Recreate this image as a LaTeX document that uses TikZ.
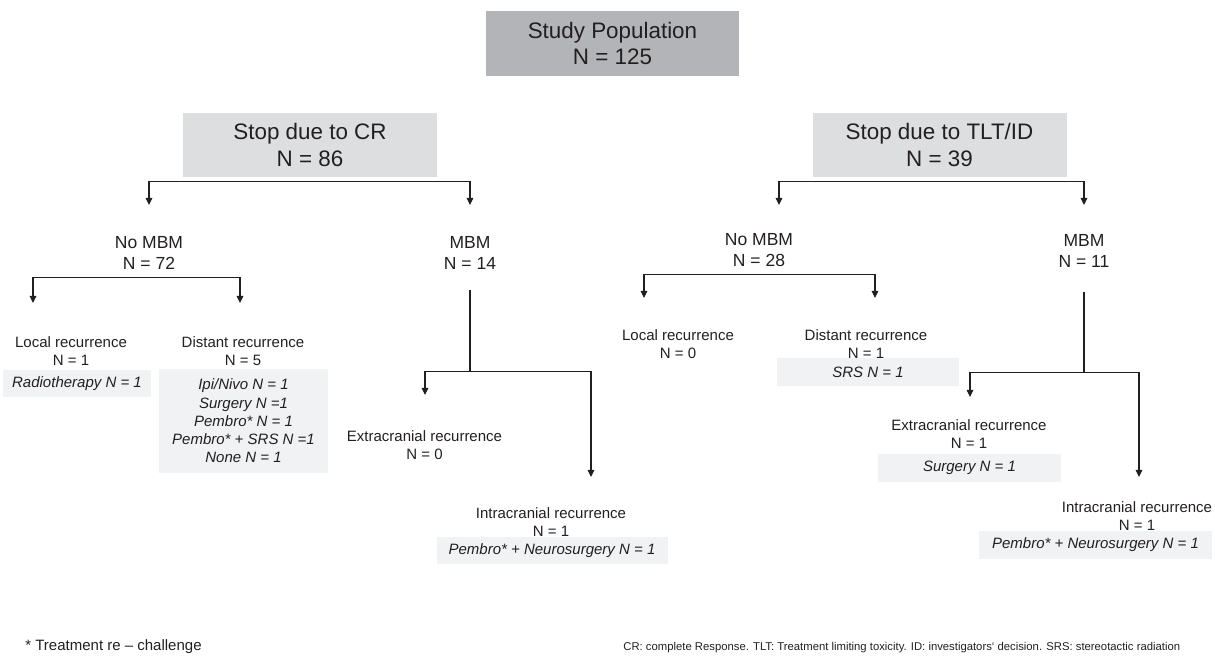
\documentclass[tikz,border=0pt]{standalone}
\usepackage{fontspec}
\setmainfont{Liberation Sans}
\usetikzlibrary{arrows.meta}
\definecolor{inkgray}{RGB}{35,31,32}
\definecolor{popgray}{RGB}{179,180,183}
\definecolor{stopgray}{RGB}{221,222,224}
\definecolor{trtgray}{RGB}{241,242,243}
\begin{document}
\begin{tikzpicture}[text=inkgray,
    top node/.style={fill=popgray,minimum width=5.06cm,minimum height=1.30cm,align=center,inner sep=0pt,font=\fontsize{12.75}{15.3}\selectfont},
    stop node/.style={fill=stopgray,minimum width=5.08cm,minimum height=1.28cm,align=center,inner sep=0pt,font=\fontsize{12.75}{15.3}\selectfont},
    group node/.style={align=center,inner sep=0pt,font=\fontsize{9.96}{11.95}\selectfont},
    rec node/.style={align=center,inner sep=0pt,font=\fontsize{8.54}{10.25}\selectfont},
    trt node/.style={fill=trtgray,align=center,inner sep=0pt,font=\fontsize{8.54}{10.4}\selectfont\itshape},
    arr/.style={draw=inkgray,line width=0.6pt,-{Triangle[width=3.8pt,length=4pt]}}
  ]
  \useasboundingbox (0,0) rectangle (24.30,-13.10);

  \node[top node] (pop) at (12.25,-0.87) {Study Population\\N = 125};
  \node[stop node] (cr) at (6.20,-2.90) {Stop due to CR\\N = 86};
  \node[stop node] (tlt) at (18.79,-2.90) {Stop due to TLT/ID\\N = 39};

  \node[group node] (nomA) at (2.98,-5.05) {No MBM\\N = 72};
  \node[group node] (mbmA) at (9.40,-5.05) {MBM\\N = 14};
  \node[group node] (nomB) at (15.18,-5.01) {No MBM\\N = 28};
  \node[group node] (mbmB) at (21.68,-5.02) {MBM\\N = 11};

  % CR side
  \node[rec node] (locA) at (1.42,-7.02) {Local recurrence\\N = 1};
  \node[trt node,minimum width=2.96cm,minimum height=0.54cm] (radA) at (1.54,-7.67) {Radiotherapy N = 1};
  \node[rec node] (disA) at (4.86,-7.02) {Distant recurrence\\N = 5};
  \node[trt node,minimum width=3.38cm,minimum height=2.08cm] (trtA) at (4.87,-8.42)
    {Ipi/Nivo N = 1\\Surgery N =1\\Pembro* N = 1\\Pembro* + SRS N =1\\None N = 1};
  \node[rec node] (extA) at (8.49,-8.90) {Extracranial recurrence\\N = 0};
  \node[rec node] (intA) at (11.02,-10.44) {Intracranial recurrence\\N = 1};
  \node[trt node,minimum width=4.62cm,minimum height=0.54cm] (pemA) at (11.04,-11.01) {Pembro* + Neurosurgery N = 1};

  % TLT/ID side
  \node[rec node] (locB) at (13.56,-6.88) {Local recurrence\\N = 0};
  \node[rec node] (disB) at (17.32,-6.88) {Distant recurrence\\N = 1};
  \node[trt node,minimum width=3.64cm,minimum height=0.56cm] (srsB) at (17.36,-7.44) {SRS N = 1};
  \node[rec node] (extB) at (19.38,-8.69) {Extracranial recurrence\\N = 1};
  \node[trt node,minimum width=3.66cm,minimum height=0.56cm] (surB) at (19.39,-9.36) {Surgery N = 1};
  \node[rec node] (intB) at (22.74,-10.32) {Intracranial recurrence\\N = 1};
  \node[trt node,minimum width=4.66cm,minimum height=0.56cm] (pemB) at (21.91,-10.90) {Pembro* + Neurosurgery N = 1};

  \node[anchor=base west,inner sep=0pt,font=\fontsize{8.54}{10.25}\selectfont] (foot) at (0.50,-13.00) {* Treatment re – challenge};
  \node[anchor=base west,inner sep=0pt,font=\fontsize{6.43}{7.7}\selectfont] (abbr) at (12.46,-13.00)
    {CR: complete Response. TLT: Treatment limiting toxicity. ID: investigators` decision. SRS: stereotactic radiation};

  % arrow tips
  \coordinate (t1) at (2.98,-4.10);
  \coordinate (t2) at (9.40,-4.10);
  \coordinate (t3) at (15.58,-4.10);
  \coordinate (t4) at (21.68,-4.10);
  \coordinate (t5) at (0.66,-6.06);
  \coordinate (t6) at (4.80,-6.06);
  \coordinate (t7) at (8.50,-7.90);
  \coordinate (t8) at (11.82,-9.54);
  \coordinate (t9) at (12.88,-5.96);
  \coordinate (t10) at (17.50,-5.96);
  \coordinate (t11) at (19.40,-7.94);
  \coordinate (t12) at (22.78,-9.54);

  \draw[arr] ([yshift=-0.08cm]cr.south) -| (t1);
  \draw[arr] ([yshift=-0.08cm]cr.south) -| (t2);
  \draw[arr] ([yshift=-0.08cm]tlt.south) -| (t3);
  \draw[arr] ([yshift=-0.08cm]tlt.south) -| (t4);
  \draw[arr] ([yshift=-0.17cm]nomA.south) -| (t5);
  \draw[arr] ([yshift=-0.17cm]nomA.south) -| (t6);
  \draw[arr] ([yshift=-0.41cm]mbmA.south) -- ++(0,-1.64) -| (t7);
  \draw[arr] ([yshift=-0.41cm]mbmA.south) -- ++(0,-1.64) -| (t8);
  \draw[arr] ([yshift=-0.14cm]nomB.south) -| (t9);
  \draw[arr] ([yshift=-0.14cm]nomB.south) -| (t10);
  \draw[arr] ([yshift=-0.48cm]mbmB.south) -- ++(0,-1.62) -| (t11);
  \draw[arr] ([yshift=-0.48cm]mbmB.south) -- ++(0,-1.62) -| (t12);
\end{tikzpicture}
\end{document}
